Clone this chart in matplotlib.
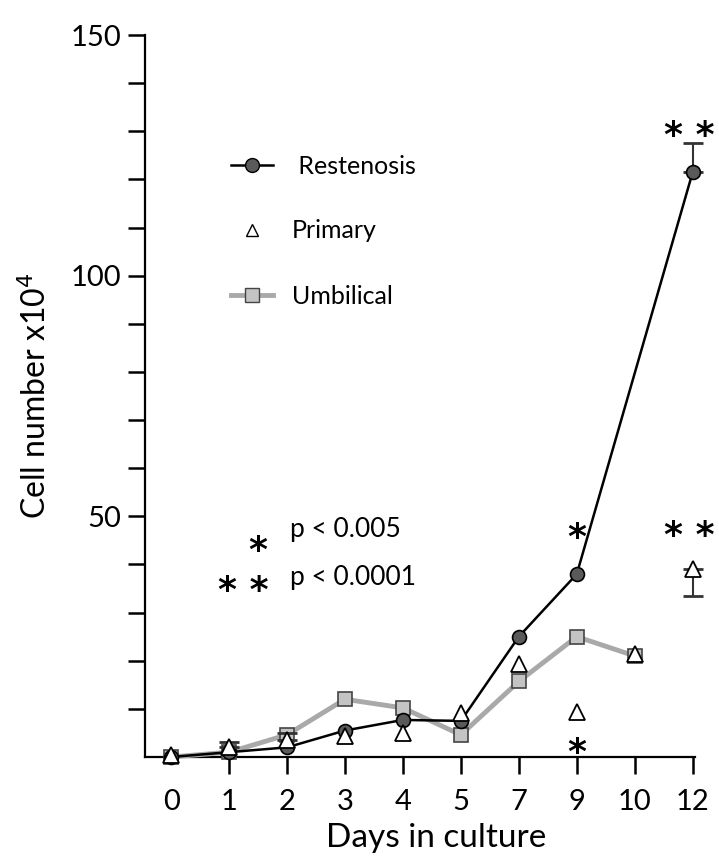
import matplotlib
matplotlib.use("Agg")
import matplotlib.pyplot as plt
import numpy as np
from matplotlib.lines import Line2D

plt.rcParams['font.family'] = ['Lato', 'DejaVu Sans']

# ---- data ----
days = ["0", "1", "2", "3", "4", "5", "7", "9", "10", "12"]
restenosis = [0, 1, 2, 5.5, 7.7, 7.5, 25, 38, np.nan, 121.5]
restenosis_err_up = [0, 0, 0, 0, 0, 0, 0, 0, 0, 6]
primary = [0.5, 2, 3.5, 4.3, 5, 9.2, 19.3, 9.4, 21.3, 39]
primary_err_up = [0, 1.2, 1.5, 0, 0, 0, 0, 0, 0, 0]
primary_err_down = [0, 0, 0, 0, 0, 0, 0, 0, 0, 5.5]
umbilical = [0, 1, 4.6, 12, 10.2, 4.6, 15.7, 25, 21, np.nan]

sig_single = [("9", 45.5), ("9", 0.8)]
sig_double = [("12", 129), ("12", 46)]

y_ticks = list(range(10, 151, 10))
y_labels = ["50", "100", "150"]

fig = plt.figure(figsize=(7.19, 8.58), dpi=100)
ax = fig.add_axes([145/719, 1-757/858, (695-145)/719, (757-35)/858])

x = np.arange(len(days))
r = np.array(restenosis, dtype=float)
u = np.array(umbilical, dtype=float)
p = np.array(primary, dtype=float)

mu = ~np.isnan(u)
ax.plot(x[mu], u[mu], '-', color='#a9a9a9', lw=3.5, marker='s', ms=10,
        mfc='#c4c4c4', mec='#444444', mew=1.2, clip_on=False, zorder=3)

mr = ~np.isnan(r)
ax.plot(x[mr], r[mr], '-', color='black', lw=1.8, marker='o', ms=10,
        mfc='#5a5a5a', mec='black', mew=1.2, clip_on=False, zorder=4)

re_up = np.array(restenosis_err_up, dtype=float)
me = re_up > 0
ax.errorbar(x[me], r[me], yerr=[np.zeros(me.sum()), re_up[me]],
            fmt='none', ecolor='#333333', elinewidth=1.5, capsize=7, capthick=2,
            zorder=3, clip_on=False)

pu = np.array(primary_err_up, dtype=float)
pd = np.array(primary_err_down, dtype=float)
mp = (pu > 0) | (pd > 0)
ax.errorbar(x[mp], p[mp], yerr=[pd[mp], pu[mp]], fmt='none',
            ecolor='#333333', elinewidth=1.5, capsize=7, capthick=2, zorder=4,
            clip_on=False)
ax.plot(x, p, linestyle='none', marker='^', ms=11, mfc='white', mec='black',
        mew=1.3, clip_on=False, zorder=5)

for d, yv in sig_single:
    ax.text(days.index(d), yv, "*", ha='center', va='center', fontsize=26,
            family='DejaVu Sans', fontweight='bold')
for d, yv in sig_double:
    ax.text(days.index(d) - 0.05, yv, "* *", ha='center', va='center', fontsize=26,
            family='DejaVu Sans', fontweight='bold')

ax.set_xlim(-0.45, 9.04)
ax.set_ylim(0, 150)
ax.set_xticks(x)
ax.set_xticklabels(days)
ax.xaxis.get_major_ticks()[0].tick1line.set_visible(False)
ax.set_yticks(y_ticks)
ax.set_yticklabels([str(t) if str(t) in y_labels else "" for t in y_ticks])

for s in ['top', 'right']:
    ax.spines[s].set_visible(False)
for s in ['left', 'bottom']:
    ax.spines[s].set_linewidth(1.6)
ax.tick_params(axis='y', length=12, width=1.8, labelsize=21, pad=5)
ax.tick_params(axis='x', length=12, width=1.8, labelsize=21, pad=11)

ax.set_xlabel("Days in culture", fontsize=24)
ax.xaxis.set_label_coords((436-145)/550, -(838-757)/722)
ax.xaxis.label.set_va('center')
ax.set_ylabel("Cell number x10$^4$", fontsize=23)
ax.yaxis.label.set_va('center')
ax.yaxis.set_label_coords(-(145-36)/550, 0.5)

# legend
handles = [
    Line2D([], [], color='black', lw=1.8, marker='o', ms=10, mfc='#5a5a5a', mec='black'),
    Line2D([], [], linestyle='none', marker='^', ms=8, mfc='white', mec='black'),
    Line2D([], [], color='#a9a9a9', lw=3.5, marker='s', ms=10, mfc='#c4c4c4', mec='#444444'),
]
ax.legend(handles, [" Restenosis", "Primary", "Umbilical"], loc='upper left',
          bbox_to_anchor=(218/719, 1-142/858), bbox_transform=fig.transFigure,
          frameon=False, fontsize=18, handlelength=1.7, handletextpad=0.75,
          labelspacing=1.68, borderpad=0)

# significance key
fig.text(258/719, 1-551/858, "*", ha='center', va='center', fontsize=26,
         family='DejaVu Sans', fontweight='bold')
fig.text(290/719, 1-530/858, "p < 0.005", ha='left', va='center', fontsize=19)
fig.text(243/719, 1-591/858, "* *", ha='center', va='center', fontsize=26,
         family='DejaVu Sans', fontweight='bold')
fig.text(290/719, 1-578/858, "p < 0.0001", ha='left', va='center', fontsize=19)

fig.savefig("out.png", dpi=100)
